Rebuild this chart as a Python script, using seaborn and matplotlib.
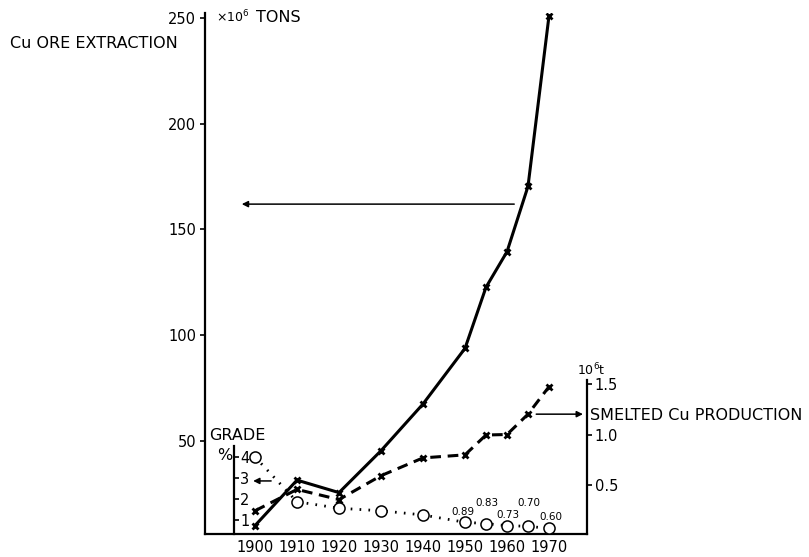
import matplotlib
matplotlib.use("Agg")
import matplotlib.pyplot as plt
import seaborn as sns
import pandas as pd

years = [1900, 1910, 1920, 1930, 1940, 1950, 1955, 1960, 1965, 1970]
ore_extraction = [10, 31.5, 25.6, 45.4, 67.5, 93.8, 122.7, 139.5, 170.4, 251]
smelted_cu = [0.25, 0.46, 0.36, 0.595, 0.77, 0.80, 0.995, 1.0, 1.20, 1.47]
grade = [4.0, 1.87, 1.56, 1.44, 1.24, 0.89, 0.83, 0.73, 0.70, 0.60]
grade_labels = ["0.89", "0.83", "0.73", "0.70", "0.60"]
grade_label_years = [1950, 1955, 1960, 1965, 1970]
x_ticks = [1900, 1910, 1920, 1930, 1940, 1950, 1960, 1970]
ore_ticks = [50, 100, 150, 200, 250]
smelted_ticks = [0.5, 1.0, 1.5]
grade_ticks = [1, 2, 3, 4]

sns.set_style("white")
plt.rcParams['font.family'] = ['DejaVu Sans']
for k in ["text.color", "xtick.color", "ytick.color", "axes.labelcolor", "axes.edgecolor"]:
    plt.rcParams[k] = "black"
FS = 10.5
FT = 11.5

df = pd.DataFrame({"year": years, "ore": ore_extraction,
                   "smelted": smelted_cu, "grade": grade})

fig = plt.figure(figsize=(8.09, 5.57), dpi=100)
W, H = 809, 557
L, R, T, B = 205, 587, 13, 534
ax = fig.add_axes([L / W, (H - B) / H, (R - L) / W, (B - T) / H])
ax.set_facecolor("none")

# x scale: 1900 at 255 px, 4.2 px / yr
x0 = 1900 - (255 - L) / 4.2
x1 = 1900 + (R - 255) / 4.2
ax.set_xlim(x0, x1)
# left scale: 0 at 546.75, 2.115 px per unit
ax.set_ylim((546.75 - B) / 2.115, (546.75 - T) / 2.115)

sns.lineplot(data=df, x="year", y="ore", ax=ax, color="black", lw=2.2,
             marker="x", markersize=5, markeredgewidth=2, markeredgecolor="black")

ax.set_xticks(x_ticks)
ax.set_xticklabels([str(v) for v in x_ticks], fontsize=FS)
ax.set_yticks(ore_ticks)
ax.set_yticklabels([str(v) for v in ore_ticks], fontsize=FS)
ax.tick_params(direction="out", length=3.5, width=1.2, colors="black", pad=3)
ax.tick_params(axis="x", length=3, pad=1)
for s in ["top", "right"]:
    ax.spines[s].set_visible(False)
for s in ["left", "bottom"]:
    ax.spines[s].set_linewidth(1.6)
    ax.spines[s].set_color("black")
ax.set_xlabel("")
ax.set_ylabel("")

# right axis: smelted Cu production
ax2 = ax.twinx()
ax2.set_ylim((536.2 - B) / 101.7, (536.2 - T) / 101.7)
sns.lineplot(data=df, x="year", y="smelted", ax=ax2, color="black", lw=2.2,
             marker="x", markersize=5, markeredgewidth=2, markeredgecolor="black",
             linestyle=(0, (3.5, 2.2)))
ax2.set_yticks(smelted_ticks)
ax2.set_yticklabels(["0.5", "1.0", "1.5"], fontsize=FS)
ax2.tick_params(direction="out", length=3.5, width=1.2, pad=2)
for s in ["top", "left", "bottom"]:
    ax2.spines[s].set_visible(False)
ax2.spines["right"].set_linewidth(1.6)
ax2.spines["right"].set_bounds((536.2 - B) / 101.7, (536.2 - 380) / 101.7)
ax2.set_ylabel("")
ax2.set_xlabel("")

# grade axis
ax3 = ax.twinx()
ax3.set_ylim((541 - B) / 21.0, (541 - T) / 21.0)
sns.lineplot(data=df, x="year", y="grade", ax=ax3, color="black", lw=2.0,
             marker="o", markersize=8, markerfacecolor="white",
             markeredgecolor="black", markeredgewidth=1.1,
             linestyle=(0, (0.6, 2.6)))
ax3.spines["right"].set_position(("data", 1900 - (255 - 234) / 4.2))
ax3.spines["right"].set_linewidth(1.6)
ax3.spines["right"].set_bounds((541 - B) / 21.0, (541 - 446) / 21.0)
for s in ["top", "left", "bottom"]:
    ax3.spines[s].set_visible(False)
ax3.set_yticks(grade_ticks)
ax3.set_yticklabels([str(v) for v in grade_ticks], fontsize=FS)
ax3.tick_params(direction="out", length=3.5, width=1.2, pad=1)
ax3.set_ylabel("")
ax3.set_xlabel("")

# grade value labels (offsets in points)
offs = {1950: (-1.5, 7.5), 1955: (0.7, 14.5), 1960: (0.7, 8), 1965: (0.3, 17), 1970: (1.4, 8.5)}
for yr, lab in zip(grade_label_years, grade_labels):
    gv = grade[years.index(yr)]
    dx, dy = offs[yr]
    ax3.annotate(lab, (yr, gv), xytext=(dx, dy), textcoords="offset points",
                 ha="center", va="center", fontsize=7.5)

# arrows
arrow_kw = dict(arrowstyle="-|>", color="black", lw=1.1, mutation_scale=9)
ax.annotate("", xy=(1900 - (255 - 239) / 4.2, 162),
            xytext=(1900 + (517 - 255) / 4.2, 162), arrowprops=arrow_kw)
ax3.annotate("", xy=(1898.9, 2.86), xytext=(1904.5, 2.86), arrowprops=arrow_kw)
ax2.annotate("", xy=(x1 - 0.3, 1.2), xytext=(1966.3, 1.2), arrowprops=arrow_kw)

# texts
fig.text(10 / W, 1 - 43 / H, "Cu ORE EXTRACTION", fontsize=FT, va="center", ha="left")
fig.text(216 / W, 1 - 17 / H, r"$\times$10$^6$", fontsize=9, va="center", ha="left")
fig.text(256 / W, 1 - 17 / H, "TONS", fontsize=FT, va="center", ha="left")
fig.text(209 / W, 1 - 436 / H, "GRADE", fontsize=FT, va="center", ha="left")
fig.text(217 / W, 1 - 456 / H, "%", fontsize=FT, va="center", ha="left")
fig.text(577 / W, 1 - 370 / H, r"10$^6$t", fontsize=9, va="center", ha="left")
fig.text(590 / W, 1 - 415 / H, "SMELTED Cu PRODUCTION", fontsize=FT, va="center", ha="left")

fig.savefig("out.png", dpi=100, facecolor="white")
